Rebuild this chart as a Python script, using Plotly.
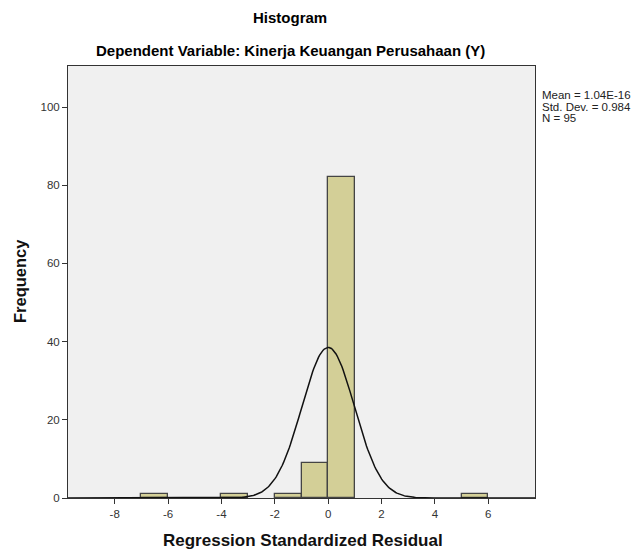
import numpy as np
import plotly.graph_objects as go

# histogram bins (width 1) and frequencies
bin_left = [-7, -4, -2, -1, 0, 5]
counts = [1, 1, 1, 9, 82, 1]
bin_width = 1.0

mean = 1.04e-16
std_dev = 0.984
n_obs = 95

x_ticks = [-8, -6, -4, -2, 0, 2, 4, 6]
x_tick_text = ["-8", "-6", "-4", "-2", "0", "2", "4", "6"]
y_ticks = [0, 20, 40, 60, 80, 100]

centers = [b + bin_width / 2 for b in bin_left]

W, H = 640, 553
L, R, T, B = 68, 105, 66, 55
plot_h = H - T - B
plot_w = W - L - R


def py(pixel_y):
    # pixel row from the top of the page -> paper y
    return 1 + (T - pixel_y) / plot_h


def px(pixel_x):
    return (pixel_x - L) / plot_w


fig = go.Figure()
fig.add_trace(go.Bar(
    x=centers, y=counts, width=bin_width,
    marker={"color": "#d3cf97", "line": {"color": "#444444", "width": 1.3}},
    showlegend=False, hoverinfo="skip",
))

# fitted normal curve scaled to frequencies
xs = np.linspace(-9.75, 7.75, 400)
ys = n_obs * bin_width / (std_dev * np.sqrt(2 * np.pi)) * np.exp(-0.5 * ((xs - mean) / std_dev) ** 2)
fig.add_trace(go.Scatter(
    x=xs, y=ys, mode="lines", line={"color": "#111111", "width": 1.5},
    showlegend=False, hoverinfo="skip",
))

font = "Liberation Sans, Arial, sans-serif"
stats_lines = [f"Mean = {mean:.2E}", f"Std. Dev. = {std_dev}", f"N = {n_obs}"]

annotations = [
    {"text": "<b>Histogram</b>", "x": px(290), "xref": "paper", "y": py(18), "yref": "paper",
     "yanchor": "middle", "showarrow": False, "font": {"size": 15, "color": "#000000"}},
    {"text": "<b>Dependent Variable: Kinerja Keuangan Perusahaan (Y)</b>", "x": px(290), "xref": "paper",
     "y": py(50), "yref": "paper", "yanchor": "middle", "showarrow": False,
     "font": {"size": 15, "color": "#000000"}},
    {"text": "<b>Regression Standardized Residual</b>", "x": px(303), "xref": "paper",
     "y": py(540), "yref": "paper", "yanchor": "middle", "showarrow": False,
     "font": {"size": 17, "color": "#111111"}},
    {"text": "<b>Frequency</b>", "x": px(20), "xref": "paper", "y": py(281), "yref": "paper",
     "xanchor": "center", "yanchor": "middle", "textangle": -90, "showarrow": False,
     "font": {"size": 16.5, "color": "#111111"}},
]
for i, line in enumerate(stats_lines):
    annotations.append({
        "text": line, "x": px(540), "xref": "paper", "y": py(95 + 11.5 * i), "yref": "paper",
        "xanchor": "left", "yanchor": "middle", "showarrow": False,
        "font": {"size": 11.5, "color": "#222222"},
    })

fig.update_layout(
    width=W, height=H,
    paper_bgcolor="white", plot_bgcolor="#f0f0f0",
    margin={"l": L, "r": R, "t": T, "b": B, "autoexpand": False},
    font={"family": font, "color": "#222222"},
    bargap=0,
    xaxis={
        "range": [-9.75, 7.75], "tickvals": x_ticks, "ticktext": x_tick_text,
        "showgrid": False, "zeroline": False,
        "ticks": "outside", "ticklen": 5, "tickcolor": "#333333", "automargin": False,
        "showline": True, "linecolor": "#333333", "linewidth": 1, "mirror": True,
        "tickfont": {"size": 11.5, "color": "#333333"},
    },
    yaxis={
        "range": [0, 110.5], "tickvals": y_ticks, "showgrid": False, "zeroline": False,
        "ticks": "outside", "ticklen": 5, "tickcolor": "#333333", "automargin": False,
        "showline": True, "linecolor": "#333333", "linewidth": 1, "mirror": True,
        "tickfont": {"size": 11.5, "color": "#333333"},
    },
    annotations=annotations,
)

# the page body has a default 8px margin; drop it so the figure fills the window
fig.write_html(
    "out.html",
    config={"displayModeBar": False},
    post_script="document.body.style.margin='0';document.body.style.overflow='hidden';",
)
